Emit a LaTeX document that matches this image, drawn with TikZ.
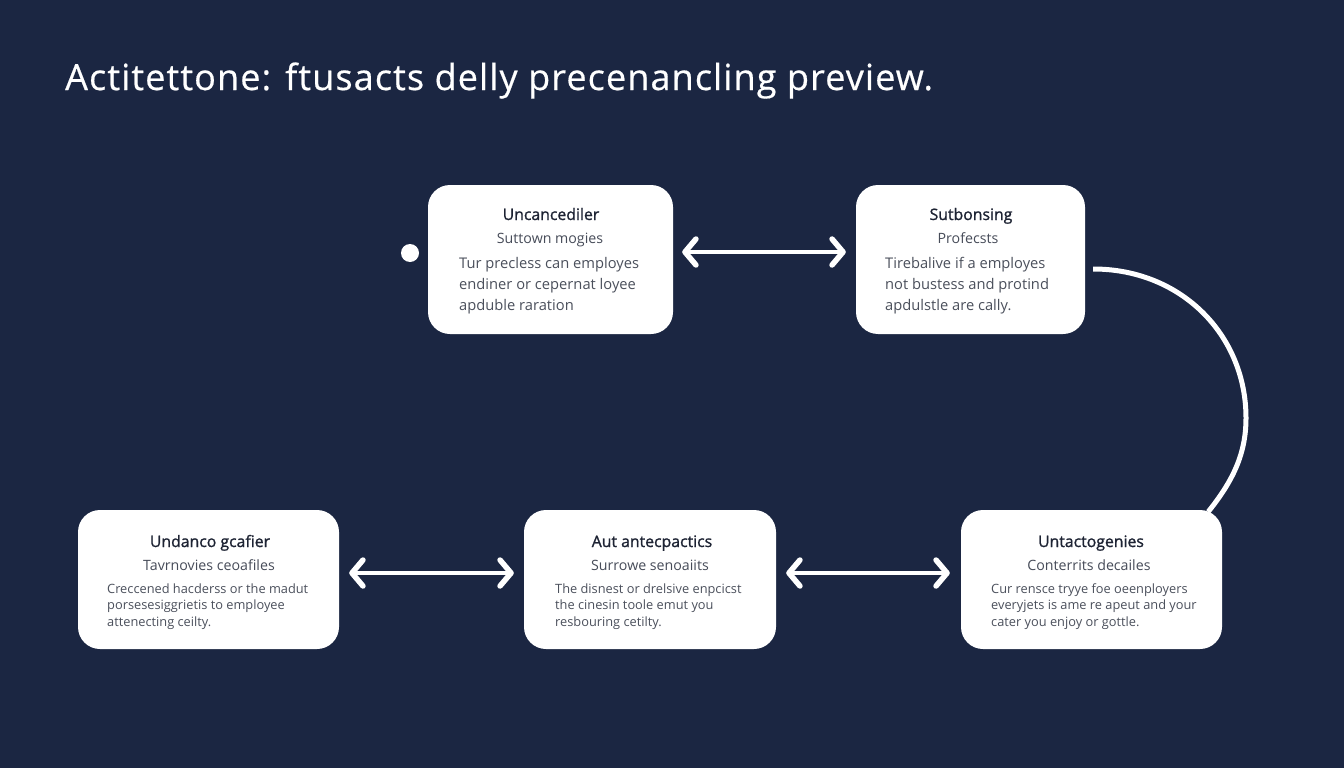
\documentclass[tikz,border=0pt]{standalone}
\usepackage{fontspec}
\setmainfont{Open Sans}
\newfontfamily\semifont{Open Sans}[FakeBold=1.2]
\newfontfamily\headfont{Open Sans}[LetterSpace=3.1,FakeBold=0.5]
\usetikzlibrary{arrows.meta,calc}
\definecolor{bg}{HTML}{1B2642}
\definecolor{ink}{HTML}{1D2333}
\definecolor{subink}{HTML}{474C59}
\definecolor{bodyink}{HTML}{4B505C}
\tikzset{
  card/.style={draw=none,fill=white,rounded corners=22pt,inner sep=0pt},
  ctitle/.style={text=ink,font=\semifont\fontsize{15.8}{18}\selectfont,inner sep=0pt,anchor=base},
  csub/.style={text=subink,font=\fontsize{14.2}{16}\selectfont,inner sep=0pt,anchor=base},
  cbody/.style={text=bodyink,align=left,inner sep=0pt,anchor=base west},
  bodyA/.style={cbody,font=\fontsize{14.7}{21}\selectfont},
  bodyB/.style={cbody,font=\fontsize{12.8}{16.5}\selectfont},
  biarrow/.style={white,line width=4.5pt,line cap=round,{Straight Barb[length=11pt,width=26pt,round,line width=5.5pt]}-{Straight Barb[length=11pt,width=26pt,round,line width=5.5pt]}},
  archline/.style={white,line width=5pt,line join=round}
}
\begin{document}
\begin{tikzpicture}[x=1pt,y=-1pt]
\fill[bg] (0,0) rectangle (1344,768);
\useasboundingbox (0,0) rectangle (1344,768);
\node[text=white,anchor=base west,inner sep=0pt,font=\headfont\fontsize{36}{40}\selectfont] (heading) at (65,90) {Actitettone: ftusacts delly precenancling preview.};
\node[card,minimum width=245pt,minimum height=149pt] (b1) at (550.5,259.5) {};
\node[card,minimum width=229pt,minimum height=149pt] (b2) at (970.5,259.5) {};
\node[card,minimum width=261pt,minimum height=139pt] (b3) at (208.5,579.5) {};
\node[card,minimum width=252pt,minimum height=139pt] (b4) at (650,579.5) {};
\node[card,minimum width=261pt,minimum height=139pt] (b5) at (1091.5,579.5) {};
\node[circle,fill=white,minimum size=18pt,inner sep=0pt] (dot) at (410,253) {};
% card 1
\node[ctitle] (t1) at (551,220) {Uncancediler};
\node[csub] (s1) at (550,243) {Suttown mogies};
\node[bodyA] (d1) at (459,310) {Tur precless can employes\\endiner or cepernat loyee\\apduble raration};
% card 2
\node[ctitle] (t2) at (971,220) {Sutbonsing};
\node[csub] (s2) at (968,243) {Profecsts};
\node[bodyA] (d2) at (885,310) {Tirebalive if a employes\\not bustess and protind\\apdulstle are cally.};
% card 3
\node[ctitle] (t3) at (210,547) {Undanco gcafier};
\node[csub] (s3) at (209,570) {Tavrnovies ceoafiles};
\node[bodyB] (d3) at (107,626) {Creccened hacderss or the madut\\porsesesiggrietis to employee\\attenecting ceilty.};
% card 4
\node[ctitle] (t4) at (652,547) {Aut antecpactics};
\node[csub] (s4) at (650,570) {Surrowe senoaiits};
\node[bodyB] (d4) at (555,626) {The disnest or drelsive enpcicst\\the cinesin toole emut you\\resbouring cetilty.};
% card 5
\node[ctitle] (t5) at (1091,547) {Untactogenies};
\node[csub] (s5) at (1089,570) {Conterrits decailes};
\node[bodyB] (d5) at (991,626) {Cur rensce tryye foe oeenployers\\everyjets is ame re apeut and your\\cater you enjoy or gottle.};
% connectors
\draw[biarrow] ([xshift=9pt,yshift=7.5pt]b1.east) -- ([xshift=-10pt,yshift=7.5pt]b2.west);
\draw[biarrow] ([xshift=10pt,yshift=6.5pt]b3.east) -- ([xshift=-10pt,yshift=6.5pt]b4.west);
\draw[biarrow] ([xshift=10pt,yshift=6.5pt]b4.east) -- ([xshift=-11pt,yshift=6.5pt]b5.west);
\coordinate (arcstart) at ($(b2.east)+(8,9.5)$);
\coordinate (arcend) at ($(b5.north east)+(-14,2)$);
\draw[archline] (arcstart) .. controls +(88,0) and (1246,335) .. (1246,418) .. controls (1246,455) and (1232,482) .. (arcend);
\end{tikzpicture}
\end{document}
